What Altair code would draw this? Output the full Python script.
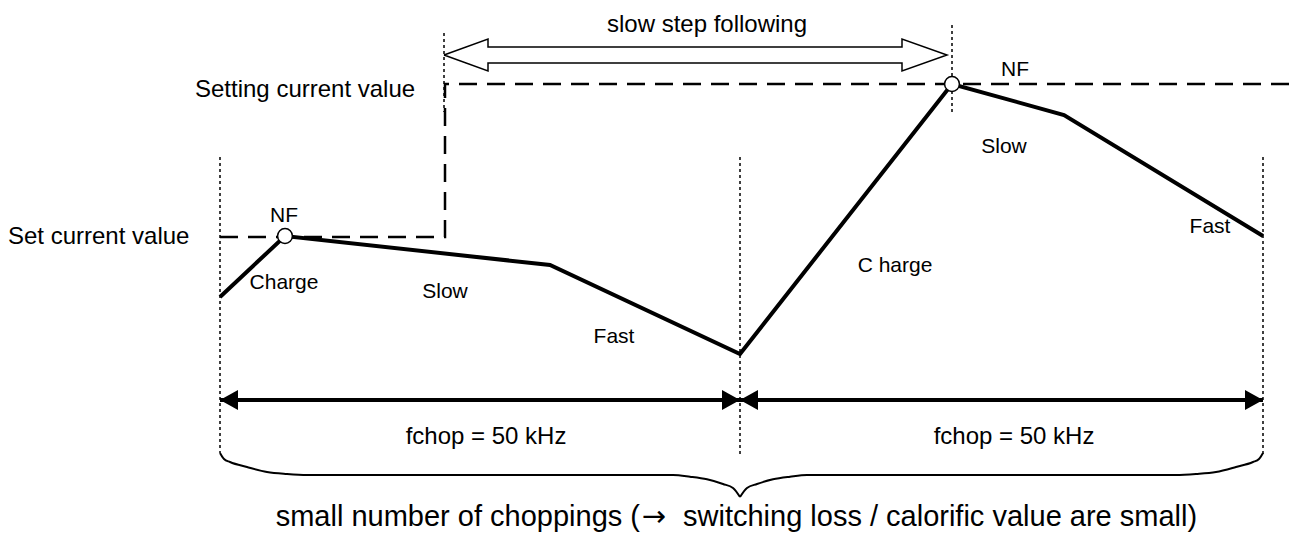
import altair as alt
import pandas as pd

# ---- diagram data (page-pixel coordinate space) ----
wave_x = [220, 285, 550, 740, 952, 1064, 1263]
wave_y = [297, 236, 265, 354, 84, 115, 236]

set_x = [220, 445, 445, 1293]
set_y = [237, 237, 84, 84]

dot_x = [220, 740, 1263, 444, 952]
dot_top = [157, 157, 157, 33, 25]
dot_bot = [453, 456, 455, 112, 112]

nf_x = [285, 952]
nf_y = [236, 84]

hollow_x = [444, 488, 488, 902, 902, 947, 902, 902, 488, 488, 444]
hollow_y = [55, 39, 47, 47, 39, 55, 71, 63, 63, 71, 55]

shaft_x = [220, 740]
shaft_x2 = [740, 1263]
shaft_y = [400, 400]

head_tip = [220, 740, 740, 1263]
head_base = [238, 722, 758, 1245]
head_y = 400
head_half = 10

brace_a_x = [220, 224, 230, 247, 267, 287, 307, 673, 690, 707, 723, 733, 740]
brace_a_y = [453, 459, 462, 467, 472, 474, 475, 475, 476.7, 479.3, 484, 488, 497]
brace_b_x = [740, 747, 757, 773, 790, 807, 1176, 1196, 1216, 1236, 1253, 1259, 1263]
brace_b_y = [497, 488, 484, 479.3, 476.7, 475, 475, 474, 472, 467, 462, 459, 453]

left_labels = ["Set current value", "Setting current value"]
left_x = [8, 195]
left_y = [237, 90]

big_labels = ["fchop = 50 kHz", "fchop = 50 kHz", "slow step following"]
big_x = [486, 1014, 707]
big_y = [437, 437, 25]

labels = ["NF", "NF", "Charge", "Slow", "Fast", "C harge", "Slow", "Fast"]
labels_x = [284, 1015, 284, 445, 614, 895, 1004, 1210]
labels_y = [216, 70, 283, 292, 337, 266, 147, 227]

bottom_left = ["small number of choppings ("]
bottom_arrow = ["\u2192"]
bottom_right = ["switching loss / calorific value are small)"]
bottom_x = [640, 654, 683]
bottom_y = 517

FONT = "Liberation Sans"

X = alt.X("x:Q", scale=alt.Scale(domain=[8, 1293], nice=False, zero=False), axis=None)
Y = alt.Y("y:Q", scale=alt.Scale(domain=[8, 536], reverse=True, nice=False, zero=False), axis=None)

# waveform
wave_df = pd.DataFrame({"x": wave_x, "y": wave_y, "o": range(len(wave_x))})
wave = alt.Chart(wave_df).mark_line(color="black", strokeWidth=4, strokeJoin="miter").encode(
    x=X, y=Y, order="o:Q")

# set current (dashed)
set_df = pd.DataFrame({"x": set_x, "y": set_y, "o": range(len(set_x))})
setline = alt.Chart(set_df).mark_line(color="black", strokeWidth=2.5, strokeDash=[18, 10]).encode(
    x=X, y=Y, order="o:Q")

# dotted verticals
dot_df = pd.DataFrame({"x": dot_x, "y": dot_top, "y2": dot_bot})
dots = alt.Chart(dot_df).mark_rule(color="black", strokeWidth=1.5, strokeDash=[3, 3]).encode(
    x=X, y=Y, y2="y2:Q")

# hollow double arrow
hol_df = pd.DataFrame({"x": hollow_x, "y": hollow_y, "o": range(len(hollow_x))})
hollow = alt.Chart(hol_df).mark_line(color="black", strokeWidth=1.5, strokeJoin="miter").encode(
    x=X, y=Y, order="o:Q")

# solid arrow shafts
sh_df = pd.DataFrame({"x": shaft_x, "x2": shaft_x2, "y": shaft_y})
shafts = alt.Chart(sh_df).mark_rule(color="black", strokeWidth=4).encode(
    x=X, x2="x2:Q", y=Y)

# arrow heads (filled triangles)
rows = []
for i, (t, b) in enumerate(zip(head_tip, head_base)):
    rows.append({"id": i, "x": t, "y": head_y, "y2": head_y})
    rows.append({"id": i, "x": b, "y": head_y - head_half, "y2": head_y + head_half})
heads_df = pd.DataFrame(rows)
heads = alt.Chart(heads_df).mark_area(color="black", orient="vertical").encode(
    x=X, y=Y, y2="y2:Q", detail="id:N")

# brace
br_rows = []
for i, (xs, ys) in enumerate([(brace_a_x, brace_a_y), (brace_b_x, brace_b_y)]):
    for j, (a, b) in enumerate(zip(xs, ys)):
        br_rows.append({"seg": i, "x": a, "y": b, "o": j})
br_df = pd.DataFrame(br_rows)
brace = alt.Chart(br_df).mark_line(color="black", strokeWidth=2, interpolate="monotone").encode(
    x=X, y=Y, detail="seg:N", order="o:Q")

# NF circles
nf_df = pd.DataFrame({"x": nf_x, "y": nf_y})
nf = alt.Chart(nf_df).mark_point(shape="circle", size=220, filled=True, fill="white",
                                 stroke="black", strokeWidth=1.5, opacity=1).encode(x=X, y=Y)

# texts
def text_layer(df, align, size, font=FONT):
    return alt.Chart(df).mark_text(align=align, baseline="middle", font=font, fontSize=size,
                                   color="black").encode(x=X, y=Y, text="t:N")

ltext = text_layer(pd.DataFrame({"x": left_x, "y": left_y, "t": left_labels}), "left", 24)
btext_big = text_layer(pd.DataFrame({"x": big_x, "y": big_y, "t": big_labels}), "center", 24)
ctext = text_layer(pd.DataFrame({"x": labels_x, "y": labels_y, "t": labels}), "center", 21)
b1 = text_layer(pd.DataFrame({"x": [bottom_x[0]], "y": [bottom_y], "t": bottom_left}), "right", 29)
b2 = text_layer(pd.DataFrame({"x": [bottom_x[1]], "y": [bottom_y], "t": bottom_arrow}), "center", 29,
                font="DejaVu Sans")
b3 = text_layer(pd.DataFrame({"x": [bottom_x[2]], "y": [bottom_y], "t": bottom_right}), "left", 29)

chart = alt.layer(dots, setline, wave, hollow, shafts, heads, brace, nf,
                  ltext, btext_big, ctext, b1, b2, b3).properties(
    width=1285, height=528, autosize=alt.AutoSizeParams(type="none"), padding=0, background="white"
).configure_view(stroke=None)

chart.save("out.html", embed_options={"renderer": "svg", "actions": False})
